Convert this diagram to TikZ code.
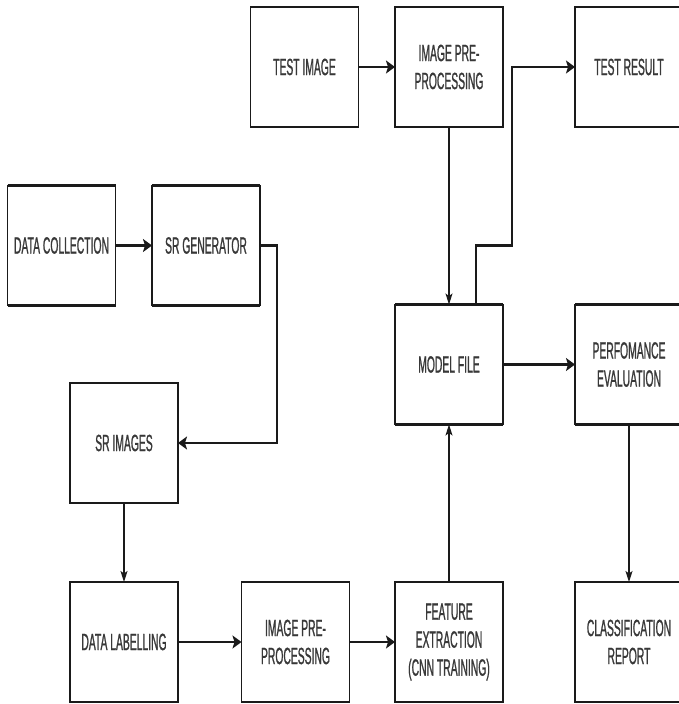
\documentclass[tikz,border=0pt]{standalone}
\usepackage{fontspec}
\setmainfont{Liberation Sans}[FakeStretch=0.44, FakeBold=0.9]
\usetikzlibrary{arrows.meta}
\definecolor{ln}{HTML}{1A1A1A}
\definecolor{tx}{HTML}{383838}
\tikzset{
  hedge/.style={draw=ln, line width=2.4pt, -},
  box/.style={rectangle, draw=ln, line width=1.1pt, outer sep=0pt,
    minimum width=108pt, minimum height=120pt, inner sep=0pt,
    align=center, text=tx, font=\fontsize{23.5pt}{28pt}\selectfont,
    append after command={(\tikzlastnode.north west) edge[hedge] (\tikzlastnode.north east)
      (\tikzlastnode.south west) edge[hedge] (\tikzlastnode.south east)}},
  hline/.style={draw=ln, line width=2.4pt},
  vline/.style={draw=ln, line width=1.2pt},
  harr/.style={hline, -{Stealth[length=9pt,width=13pt,inset=2pt]}},
  varr/.style={vline, -{Stealth[length=11pt,width=7pt,inset=2.5pt]}},
}
\begin{document}
\begin{tikzpicture}[x=1pt,y=-1pt]
\path[use as bounding box] (0,0) rectangle (679,704);
\clip (0,0) rectangle (679,704);

\node[box] (ti)  at (304.5,67) {TEST IMAGE};
\node[box] (ip1) at (449,67) {IMAGE PRE-\\PROCESSING};
\node[box] (tr)  at (629,67) {TEST RESULT};
\node[box] (dc)  at (61.5,245.5) {DATA COLLECTION};
\node[box] (srg) at (206,245.5) {SR GENERATOR};
\node[box] (sri) at (124,443) {SR IMAGES};
\node[box] (mf)  at (449,364.5) {MODEL FILE};
\node[box] (pe)  at (629,364.5) {PERFOMANCE\\EVALUATION};
\node[box] (dl)  at (124,642) {DATA LABELLING};
\node[box] (ip2) at (295.5,642) {IMAGE PRE-\\PROCESSING};
\node[box] (fe)  at (449,642) {FEATURE\\EXTRACTION\\(CNN TRAINING)};
\node[box] (cr)  at (629,642) {CLASSIFICATION\\REPORT};

% top row
\draw[harr] (ti.east) -- (ip1.west);
\draw[varr] (ip1.south) -- (mf.north);

% model file -> test result (stepped)
\coordinate (m1) at ([xshift=27pt]mf.north);
\coordinate (m2) at ([yshift=59pt]m1);
\coordinate (m3) at ([xshift=36pt]m2);
\coordinate (m4) at (m3 |- tr.west);
\draw[vline] (m1) -- (m2);
\draw[hline, line cap=rect] (m2) -- (m3);
\draw[vline] (m3) -- (m4);
\draw[harr] ([xshift=-0.6pt]m4) -- (tr.west);

% middle
\draw[harr] (dc.east) -- (srg.west);
\coordinate (s1) at ([xshift=17pt]srg.east);
\coordinate (s2) at (s1 |- sri.east);
\draw[hline] (srg.east) -- ([xshift=0.6pt]s1);
\draw[vline] (s1) -- (s2);
\draw[harr] ([xshift=0.6pt]s2) -- (sri.east);
\draw[harr] (mf.east) -- (pe.west);
\draw[varr] (pe.south) -- (cr.north);
\draw[varr] (sri.south) -- (dl.north);

% bottom row
\draw[harr] (dl.east) -- (ip2.west);
\draw[harr] (ip2.east) -- (fe.west);
\draw[varr] (fe.north) -- (mf.south);
\end{tikzpicture}
\end{document}
